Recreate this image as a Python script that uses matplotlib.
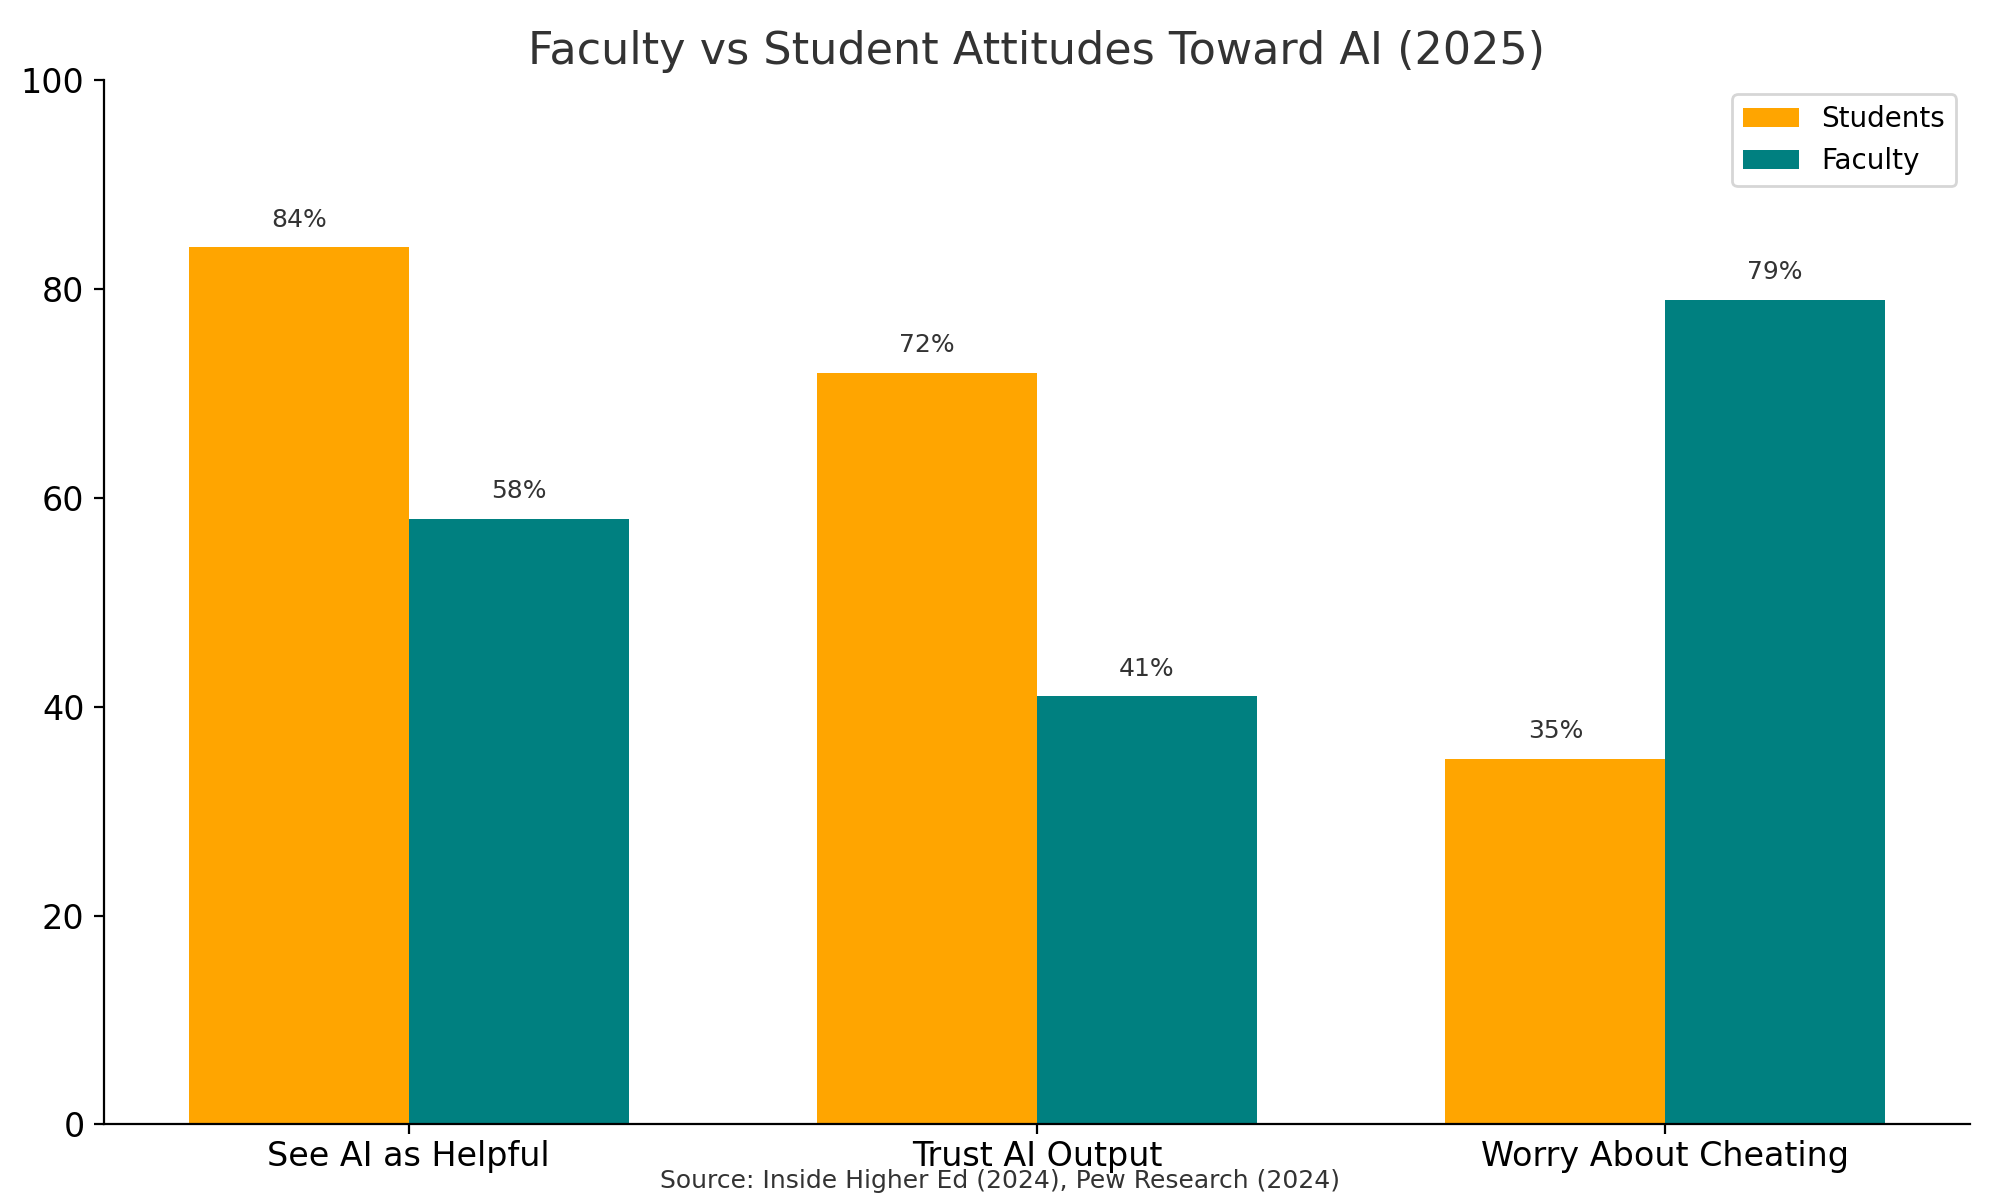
import matplotlib
matplotlib.use("Agg")
import matplotlib.pyplot as plt
import numpy as np

categories = ["See AI as Helpful", "Trust AI Output", "Worry About Cheating"]
students = [84, 72, 35]
faculty = [58, 41, 79]

fig = plt.figure(figsize=(10, 6), dpi=200)
ax = fig.add_axes([0.052, 0.063, 0.933, 0.87])
x = np.arange(len(categories))
w = 0.35
b1 = ax.bar(x - w/2, students, w, color="#FFA500", label="Students")
b2 = ax.bar(x + w/2, faculty, w, color="#008080", label="Faculty")
for bars in (b1, b2):
    for r in bars:
        ax.text(r.get_x() + r.get_width()/2, r.get_height() + 1.5, f"{int(r.get_height())}%",
                ha="center", va="bottom", fontsize=9, color="#333333")
ax.set_ylim(0, 100)
ax.set_xticks(x)
ax.set_xticklabels(categories, fontsize=12)
ax.tick_params(axis="y", labelsize=12)
ax.tick_params(axis="x", pad=2)
ax.spines["top"].set_visible(False)
ax.spines["right"].set_visible(False)
ax.set_title("Faculty vs Student Attitudes Toward AI (2025)", fontsize=16, color="#333333")
ax.legend(loc="upper right", fontsize=10)
fig.text(0.5, 0.006, "Source: Inside Higher Ed (2024), Pew Research (2024)", ha="center",
         va="bottom", fontsize=9, color="#333333")
fig.savefig("out.png")
